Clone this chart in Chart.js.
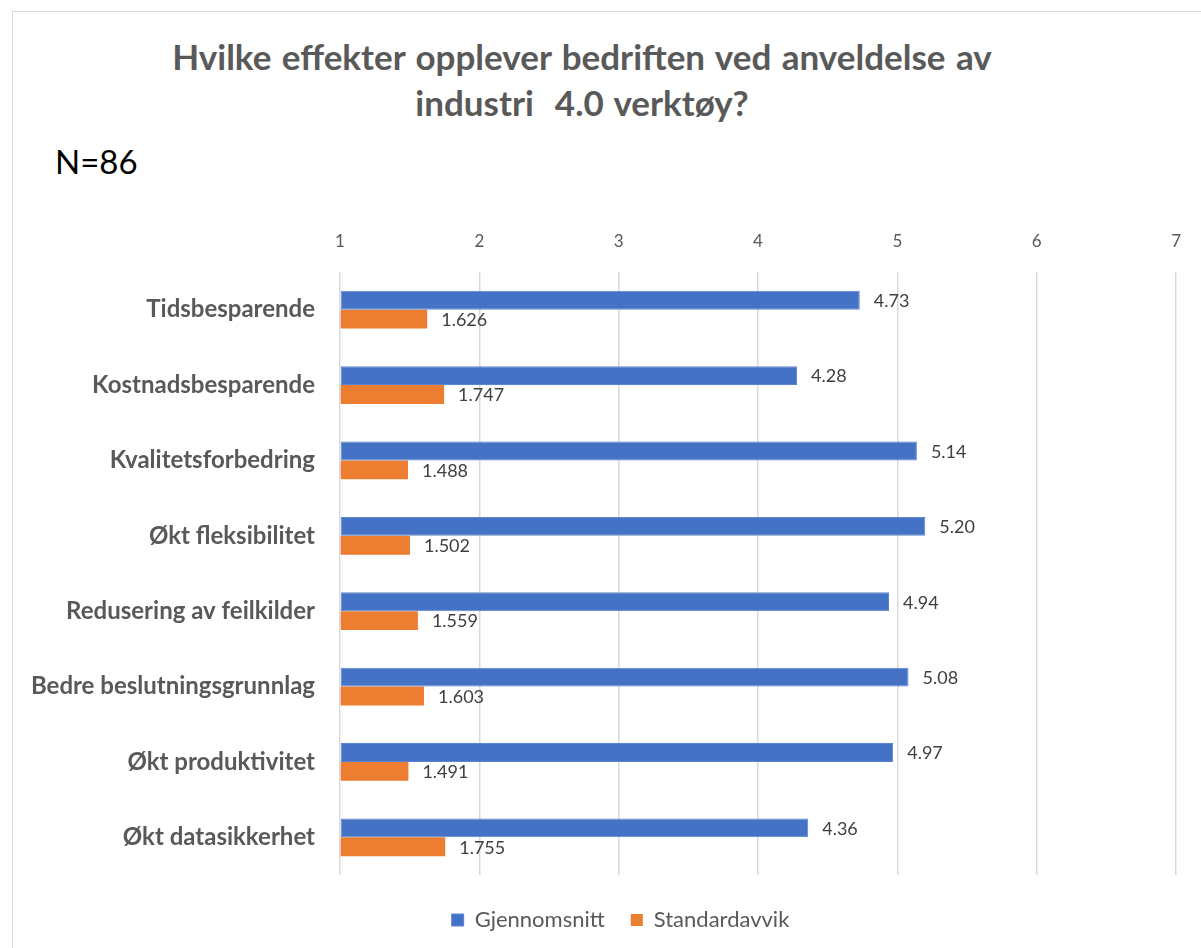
<!DOCTYPE html>
<html>
<head>
<meta charset="utf-8">
<script src="https://cdn.jsdelivr.net/npm/chart.js"></script>
<style>
body { margin: 0; background: #fff; }
#wrap { position: relative; width: 1201px; height: 948px; overflow: hidden; }
#frame { position: absolute; left: 12px; top: 11px; width: 1220px; height: 980px; border: 1px solid #d9d9d9; }
#title { position: absolute; left: 0; top: 33px; width: 1164px; text-align: center; font: bold 35px Lato; word-spacing: 2px; color: #595959; line-height: 46px; white-space: pre; }
#n { position: absolute; left: 55px; top: 141px; font: 33px Lato; color: #000; }
canvas { position: absolute; left: 0; top: 0; }
</style>
</head>
<body>
<div id="wrap">
  <div id="frame"></div>
  <div id="title">Hvilke effekter opplever bedriften ved anveldelse av
industri  4.0 verktøy?</div>
  <div id="n">N=86</div>
  <canvas id="chart" width="1201" height="948"></canvas>
</div>
<script>
const categories = ['Tidsbesparende', 'Kostnadsbesparende', 'Kvalitetsforbedring', 'Økt fleksibilitet',
    'Redusering av feilkilder', 'Bedre beslutningsgrunnlag', 'Økt produktivitet', 'Økt datasikkerhet']
const gjennomsnitt = [4.73, 4.28, 5.14, 5.20, 4.94, 5.08, 4.97, 4.36]
const standardavvik = [1.626, 1.747, 1.488, 1.502, 1.559, 1.603, 1.491, 1.755]
const xMin = 1
const xMax = 7

// value labels right of each bar
const valueLabels = {
    id: 'valueLabels',
    afterDatasetsDraw(chart) {
        const c = chart.ctx
        c.save()
        c.font = '18px Lato'
        c.fillStyle = '#404040'
        c.textBaseline = 'middle'
        chart.data.datasets.forEach((ds, i) => {
            const meta = chart.getDatasetMeta(i)
            meta.data.forEach((bar, j) => {
                const txt = ds.data[j].toFixed(i === 0 ? 2 : 3)
                c.fillText(txt, bar.x + 14, bar.y + 1)
            })
        })
        c.restore()
    }
}

// nudge the legend a bit lower and to the right, like the original
const legendShift = {
    id: 'legendShift',
    beforeDraw(chart) {
        chart.legend.left = 50
        chart.legend.top = chart.chartArea.bottom + 8
    }
}

new Chart(document.getElementById('chart'), {
    type: 'bar',
    data: {
        labels: categories,
        datasets: [{
            label: 'Gjennomsnitt',
            data: gjennomsnitt,
            base: xMin,
            backgroundColor: '#4472C4',
            borderColor: '#5b85d0',
            borderWidth: 1,
            borderSkipped: false,
            categoryPercentage: 0.5,
            barPercentage: 1.0
        }, {
            label: 'Standardavvik',
            data: standardavvik,
            base: xMin,
            backgroundColor: '#ED7D31',
            categoryPercentage: 0.5,
            barPercentage: 1.0
        }]
    },
    options: {
        indexAxis: 'y',
        responsive: false,
        animation: false,
        devicePixelRatio: 1,
        layout: { padding: { top: 200, left: 20, right: 10, bottom: 15 } },
        scales: {
            x: {
                position: 'top',
                min: xMin,
                max: xMax,
                ticks: { stepSize: 1, color: '#595959', font: { family: 'Lato', size: 17 }, padding: 20 },
                grid: { color: '#d9d9d9', lineWidth: 1.5, drawTicks: false },
                border: { display: false },
                afterFit(scale) { scale.height = 72 }
            },
            y: {
                ticks: { color: '#595959', font: { family: 'Lato', size: 24, weight: 'bold' }, padding: 17 },
                grid: { display: false },
                border: { display: false },
                afterFit(scale) { scale.width = 320 }
            }
        },
        plugins: {
            legend: {
                position: 'bottom',
                labels: {
                    boxWidth: 12,
                    boxHeight: 12,
                    padding: 26,
                    color: '#595959',
                    font: { family: 'Lato', size: 22 }
                }
            },
            tooltip: { enabled: false }
        }
    },
    plugins: [valueLabels, legendShift]
})
</script>
</body>
</html>
